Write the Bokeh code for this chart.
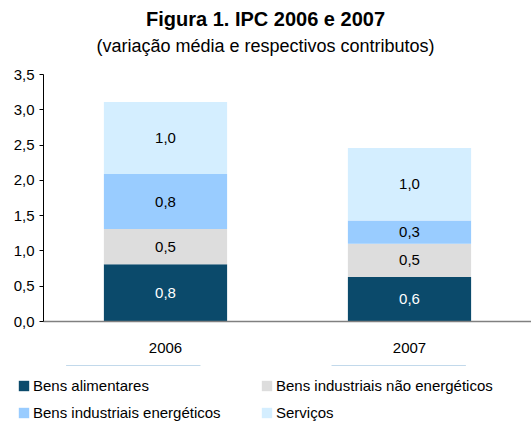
from bokeh.plotting import figure
from bokeh.layouts import column
from bokeh.models import (ColumnDataSource, Legend, LegendItem, Label, FactorRange, Range1d,
                          FixedTicker, CustomJSTickFormatter)
from bokeh.core.properties import value
from bokeh.embed import file_html
from bokeh.resources import INLINE

title_text = "Figura 1. IPC 2006 e 2007"
subtitle_text = "(variação média e respectivos contributos)"
years = ["2006", "2007"]
series = ["Bens alimentares", "Bens industriais não energéticos",
          "Bens industriais energéticos", "Serviços"]
alimentares = [0.81, 0.63]
nao_energeticos = [0.50, 0.47]
energeticos = [0.78, 0.33]
servicos = [1.02, 1.03]
y_ticks = [0.0, 0.5, 1.0, 1.5, 2.0, 2.5, 3.0, 3.5]

colors = ["#0B4A6B", "#DDDDDD", "#99CCFF", "#D4EEFF"]
label_colors = ["#FFFFFF", "#000000", "#000000", "#000000"]
FONT = "Liberation Sans"
W = 531

# ---------------- title block ----------------
pt = figure(width=W, height=62, output_backend="svg", toolbar_location=None,
            x_axis_location=None, y_axis_location=None, frame_align=False,
            min_border_left=0, min_border_right=0, min_border_top=0, min_border_bottom=0)
pt.outline_line_color = None
pt.grid.grid_line_color = None
pt.add_layout(Label(x=265, y=44, x_units="screen", y_units="screen", text=title_text,
                    text_align="center", text_baseline="middle", text_font=FONT,
                    text_font_size="20px", text_font_style="bold", text_color="#000000"))
pt.add_layout(Label(x=265, y=17, x_units="screen", y_units="screen", text=subtitle_text,
                    text_align="center", text_baseline="middle", text_font=FONT,
                    text_font_size="18px", text_color="#000000"))

# ---------------- main chart ----------------
values = [alimentares, nao_energeticos, energeticos, servicos]
keys = ["s0", "s1", "s2", "s3"]
data = {"years": years}
for k, v in zip(keys, values):
    data[k] = v
source = ColumnDataSource(data)

p = figure(width=W, height=303, x_range=FactorRange(*years), y_range=Range1d(0, 3.5),
           output_backend="svg", toolbar_location=None, frame_align=False,
           min_border_left=43, min_border_right=0, min_border_top=12, min_border_bottom=44)

renderers = p.vbar_stack(keys, x="years", width=0.505, color=colors, source=source, line_width=0)

bottoms = [0.0] * len(years)
for v, c in zip(values, label_colors):
    mids = [b + x / 2 for b, x in zip(bottoms, v)]
    texts = [f"{x:.1f}".replace(".", ",") for x in v]
    p.text(x=years, y=mids, text=texts, text_align="center", text_baseline="middle",
           text_font=value(FONT), text_font_size="15px", text_color=c)
    bottoms = [b + x for b, x in zip(bottoms, v)]

p.outline_line_color = None
p.grid.grid_line_color = None

ya = p.yaxis[0]
ya.ticker = FixedTicker(ticks=y_ticks)
ya.formatter = CustomJSTickFormatter(code="return tick.toFixed(1).replace('.', ',');")
ya.axis_line_color = "#000000"
ya.major_tick_line_color = "#000000"
ya.major_tick_out = 4
ya.major_tick_in = 0
ya.minor_tick_line_color = None
ya.major_label_standoff = 5
ya.major_label_text_font = FONT
ya.major_label_text_font_size = "15px"
ya.major_label_text_color = "#000000"

xa = p.xaxis[0]
xa.axis_line_color = "#808080"
xa.axis_line_width = 1.5
xa.major_tick_line_color = None
xa.major_label_standoff = 15
xa.major_label_text_font = FONT
xa.major_label_text_font_size = "15px"
xa.major_label_text_color = "#000000"

# ---------------- legend block ----------------
pl = figure(width=W, height=58, output_backend="svg", toolbar_location=None,
            x_range=FactorRange(*years), y_range=Range1d(-1001, -1000), frame_align=False,
            x_axis_location=None, y_axis_location=None,
            min_border_left=0, min_border_right=0, min_border_top=0, min_border_bottom=0)
pl.outline_line_color = None
pl.grid.grid_line_color = None
swatches = pl.vbar_stack(keys, x="years", width=0.505, color=colors, source=source, line_width=0)
order = [0, 2, 1, 3]  # column-major fill -> rows: (0,1), (2,3)
items = [LegendItem(label=series[i], renderers=[swatches[i]]) for i in order]
legend = Legend(items=items, ncols=2, location=(17, 2), orientation="vertical",
                border_line_color=None, background_fill_alpha=0, padding=0, margin=0,
                glyph_width=13, glyph_height=13, label_standoff=3, label_width=217,
                spacing=10, label_text_font=FONT, label_text_font_size="15px",
                label_text_color="#000000")
pl.add_layout(legend, "center")

layout = column(pt, p, pl, spacing=0)
open("out.html", "w").write(file_html(layout, INLINE))
